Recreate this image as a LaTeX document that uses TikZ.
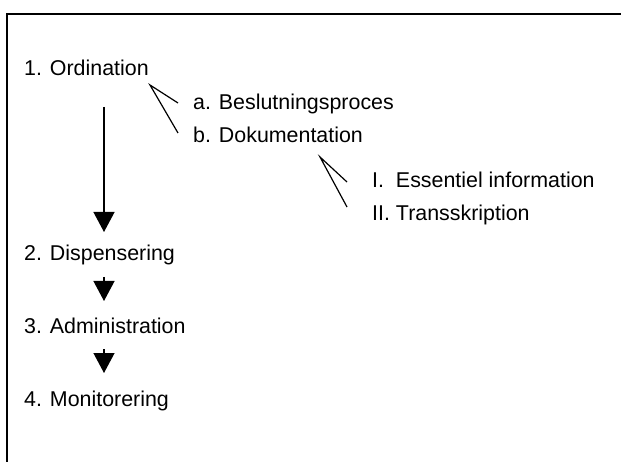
\documentclass[tikz,border=0pt]{standalone}
\usepackage{fontspec}
\setmainfont{Liberation Sans}
\usetikzlibrary{arrows.meta,positioning}

\begin{document}
\begin{tikzpicture}[x=1pt, y=-1pt,
stage/.style = {anchor=base west, inner sep=0pt, font=\fontsize{21.4}{25}\selectfont},
flow arrow/.style = {line width=1.3pt, -{Triangle[width=21pt,length=20pt]}},
fork/.style = {line width=1.2pt}]
\useasboundingbox (0,0) rectangle (621,462);
\draw[line width=2pt] (7,462) -- (7,14) -- (621,14);

\node[stage] (ord) at (24,76) {1. Ordination};
\node[stage] (besl) at (193,110) {a. Beslutningsproces};
\node[stage] (doku) at (193,143) {b. Dokumentation};
\node[stage] (ess) at (372,188) {I.\ \ Essentiel information};
\node[stage] (trans) at (372,221) {II. Transskription};

\node[stage] (disp) at (24,261) {2. Dispensering};
\node[stage] (adm) at (24,334) {3. Administration};
\node[stage] (mon) at (24,406) {4. Monitorering};

% forks
\coordinate (f1) at (150,85);
\coordinate (f1a) at (178,103);
\coordinate (f1b) at (178,133);
\draw[fork] (f1a) -- (f1) -- (f1b);
\coordinate (f2) at (320,157);
\coordinate (f2a) at (347,182);
\coordinate (f2b) at (347,207);
\draw[fork] (f2a) -- (f2) -- (f2b);

% flow
\coordinate (o1) at (104,107);
\coordinate (d1) at (104,232);
\draw[flow arrow] (o1) -- (d1);
\coordinate (o2) at (104,277);
\coordinate (d2) at (104,301);
\draw[flow arrow] (o2) -- (d2);
\coordinate (o3) at (104,349);
\coordinate (d3) at (104,373);
\draw[flow arrow] (o3) -- (d3);
\end{tikzpicture}
\end{document}
